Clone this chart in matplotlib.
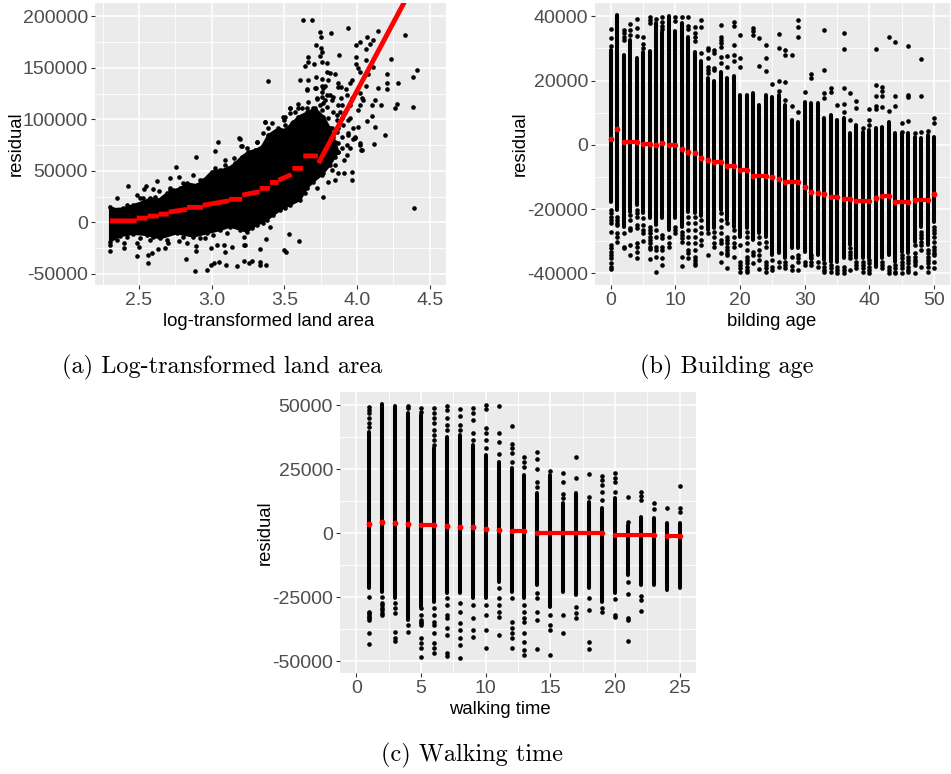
import matplotlib
matplotlib.use("Agg")
import matplotlib.pyplot as plt
from matplotlib.ticker import MultipleLocator

plt.rcParams['font.family'] = ['Liberation Sans', 'DejaVu Sans']
plt.rcParams['axes.unicode_minus'] = False

W, H = 951, 774

# ---- (a) land area: dense cloud outline
a_up_x = [2.30, 2.324, 2.393, 2.461, 2.53, 2.576, 2.633, 2.691, 2.737, 2.783, 2.828, 2.897, 2.943, 3.0,
          3.058, 3.115, 3.161, 3.207, 3.253, 3.299, 3.345, 3.39, 3.459, 3.505, 3.551, 3.597, 3.666, 3.712,
          3.769, 3.815, 3.849, 3.872]
a_up_y = [15000, 13000, 13600, 16900, 20100, 23400, 21700, 28200, 31400, 33000, 37900, 36300, 41100, 49200,
          50800, 52500, 57300, 63800, 68600, 70200, 73500, 84800, 91300, 89600, 96100, 102600, 107400, 110700,
          102600, 91300, 78300, 68600]
a_lo_x = [2.30, 2.37, 2.461, 2.553, 2.645, 2.76, 2.874, 2.966, 3.058, 3.127, 3.241, 3.31, 3.379, 3.471,
          3.54, 3.608, 3.654, 3.70, 3.757, 3.815, 3.849, 3.872]
a_lo_y = [-18700, -13200, -11200, -12200, -15500, -10600, -13800, -10600, -7400, -4100, -9000, -2500, 2300,
          12000, 16900, 21700, 33000, 39500, 46000, 55700, 63800, 68600]

# (a) loose points around the cloud
a_pts_x = [3.628, 3.688, 3.745, 3.75, 3.821, 3.938, 4.142, 4.33, 4.069, 4.023, 4.112, 3.991, 4.092, 3.718,
           3.754, 3.759, 4.06, 3.745, 3.874, 3.66, 3.991, 4.234, 4.062, 3.66, 3.642, 3.706, 3.757, 3.791,
           3.991, 4.112, 4.009, 4.415, 3.791, 3.814, 3.849, 4.021, 4.209, 4.383, 3.61, 3.66, 3.715, 3.761,
           3.803, 3.963, 4.078, 4.284, 3.952, 3.871, 3.89, 4.06, 4.144, 4.209, 4.209, 3.658, 3.718, 3.757,
           3.78, 3.922, 3.759, 3.814, 4.021, 3.837, 3.89, 3.963, 4.044, 4.124, 4.273, 4.101, 4.163, 4.259,
           4.388, 3.596, 3.539, 3.665, 3.722, 3.78, 3.952, 4.009, 4.101, 4.066, 4.124, 4.19, 4.117, 4.027,
           4.021, 3.975, 4.009, 3.94, 3.883, 3.894, 3.493, 3.539, 3.573, 3.619, 3.654, 3.699, 3.745, 3.791,
           3.837, 3.757, 3.711, 3.504, 3.562, 3.631, 3.676, 3.803, 3.86, 3.906, 3.94, 3.986, 3.894, 3.929,
           3.86, 3.826, 3.562, 3.481, 3.642, 3.699, 4.395, 3.386, 3.367,
           2.303, 2.303, 2.397, 2.397, 2.484, 2.56, 2.56, 2.592, 2.503, 2.484, 2.576, 2.633, 2.679, 2.702,
           2.824, 2.89, 2.89, 2.831, 2.888, 2.966, 2.994, 3.016, 3.049, 3.101, 3.173, 3.223, 3.257, 3.278,
           3.333, 3.333, 3.372, 3.09, 3.138, 2.994, 3.039, 3.223, 3.232, 3.223, 3.333, 3.372, 3.402, 3.494,
           3.51, 3.533, 3.599, 2.773, 2.955, 3.085,
           2.427, 2.347, 2.484, 2.535, 2.546, 2.599, 2.638, 2.624, 2.714, 2.773, 2.874, 2.755, 2.895, 3.023,
           3.044, 3.09, 3.193, 3.207, 2.53, 2.714,
           3.191, 3.202, 3.31, 3.367, 3.39, 3.413, 3.505, 3.494, 3.54, 3.597, 3.62, 3.654, 3.677, 3.723, 3.762,
           3.792, 3.769, 3.826, 3.872, 3.93, 3.757, 3.861, 3.895, 3.918, 3.952, 3.975, 3.941, 3.987, 4.021,
           4.033, 3.872, 3.895, 3.93, 3.907, 3.849, 3.872, 3.907, 3.968, 3.849, 3.968, 4.033, 4.021, 3.952,
           3.872, 3.838, 3.654, 3.712, 3.769, 3.872, 3.643, 3.723, 3.769, 3.803, 3.769, 3.826, 3.849,
           2.416, 2.507, 2.61, 2.714, 2.805, 2.92, 3.023, 3.09, 3.15, 3.241, 3.31, 3.356,
           2.347, 2.416, 2.507, 2.599, 2.691, 2.805, 2.92, 3.012, 3.104, 3.195, 3.276, 3.356, 3.425, 3.505]
a_pts_y = [196000, 196000, 184400, 179900, 183700, 188900, 186000, 181500, 179500, 175300, 177300, 172400,
           173400, 172100, 169500, 165600, 167900, 161400, 162700, 160500, 160100, 158800, 157500, 155900,
           152000, 154000, 155900, 155000, 153300, 151100, 149500, 147800, 146200, 144600, 143600, 146200,
           144000, 141400, 138500, 138100, 141000, 139100, 138100, 138100, 144000, 135500, 134900, 134900,
           131000, 132300, 130400, 134900, 129400, 129400, 130700, 132300, 132300, 129400, 126800, 123600,
           125200, 122000, 120300, 120300, 118700, 118700, 115200, 113900, 114200, 111300, 112300, 114800,
           111000, 116800, 119700, 118700, 113900, 109000, 103500, 98400, 92200, 84800, 75700, 70200, 76700,
           80600, 92900, 99300, 107400, 113900, 102600, 105800, 107400, 110600, 107400, 110600, 113900,
           112300, 107400, 102600, 104200, 94500, 97700, 99300, 99300, 101000, 99300, 94500, 86400, 83200,
           83200, 75100, 88000, 91200, 89600, 86400, 91200, 91200, 14000, 136900, 97700,
           -27400, -22000, -25200, -20300, -32600, -31600, -39700, -29400, -23500, -20300, -17100, -26100,
           -24500, -20300, -35800, -27400, -22900, -20300, -47200, -46200, -41000, -39700, -38100, -41700,
           -42300, -37400, -39700, -37100, -38100, -41000, -41300, -28400, -23500, -25200, -22000, -22000,
           -22000, -14500, -26100, -16100, -4800, -26800, -28400, -11000, -17700, -17700, -15500, -22000,
           35300, 23400, 26600, 32100, 35300, 32100, 30500, 40200, 43400, 44100, 46000, 53800, 63100, 69600,
           77700, 60500, 80900, 74100, 23400, 33000,
           81600, 74100, 78300, 97700, 91300, 96100, 102600, 99300, 110700, 110700, 101000, 110700, 104200,
           120400, 122000, 123600, 115500, 118700, 113900, 123600, 109000, 104200, 101000, 107400, 101000,
           91300, 84800, 81600, 113900, 120400, 76700, 71900, 65400, 60500, 55700, 47600, 47600, 48600, 41100,
           41100, 70200, 75100, 71900, 91300, 83200, 128400, 130100, 130100, 131700, 28200, 33000, 25000,
           39500, 47600, 50800, 67000,
           16900, 23400, 25000, 31400, 37900, 41100, 52400, 55700, 62200, 71900, 78300, 86400,
           -17100, -13800, -15500, -13800, -17100, -13800, -15500, -12200, -10600, -7400, -5800, -900, 7200, 13600]

# (a) red fit, NaN breaks the line at its jumps
nan = float("nan")
a_fit_x = [2.30, 2.484, nan, 2.484, 2.56, nan, 2.56, 2.635, nan, 2.635, 2.705, nan, 2.705, 2.83, nan, 2.83, 2.94,
           nan, 2.94, 3.12, nan, 3.12, 3.21, nan, 3.21, 3.33, nan, 3.33, 3.40, nan, 3.40, 3.46, nan, 3.46, 3.55,
           nan, 3.555, 3.63, nan, 3.63, 3.73, nan, 3.735, 4.33]
a_fit_y = [1500, 1500, nan, 4200, 4200, nan, 6200, 6200, nan, 8100, 8100, nan, 10000, 12700, nan, 14600, 14600,
           nan, 16600, 21000, nan, 22400, 22400, nan, 26500, 29800, nan, 33000, 33000, nan, 38800, 38800, nan,
           41000, 46500, nan, 52500, 52500, nan, 64500, 64500, nan, 57500, 215000]

# ---- (b) building age
ages = list(range(51))
b_top = [29500, 40370, 27930, 32590, 26890, 28960, 29170, 37780, 34980, 40160, 35390, 37780, 33630, 28960, 26060,
         20670, 19840, 22740, 20870, 21500, 15480, 15480, 16000, 12370, 15480, 14960, 15480, 12370, 7700, 7180,
         13410, 12890, 12890, 8220, 9260, 7700, 8220, 3550, 6150, 4070, 4590, 5110, 5630, 7180, 3550, 3550, 3550,
         2500, 2000, 3040, 2500]
b_bot = [-17700, -20290, -25470, -20800, -18730, -21320, -22880, -24950, -22880, -26510, -22880, -25470, -20800,
         -21320, -22150, -26510, -25990, -20290, -23400, -25470, -28580, -25990, -29620, -27550, -28580, -34290,
         -33560, -35320, -32210, -32210, -33250, -35320, -34290, -35840, -36360, -36360, -35320, -31180, -35320,
         -35320, -35320, -37920, -35320, -34290, -36360, -33250, -33770, -30140, -25470, -31180, -23920]
b_dots_up = [[36000, 33100, 30700], [], [35700, 34670, 33630, 32590], [37450, 35700, 34150], [39130, 36220, 33830],
             [33420, 31240, 30200], [39850, 38810, 37780], [39130], [39850, 38300, 37050, 36000], [], [39750, 38610],
             [39850], [39850, 37050, 36000], [36740, 34670, 33420, 32280], [38810, 36640, 28440],
             [29990, 29480, 27100, 24300, 23260, 22220], [29480, 28440, 23990, 23260],
             [37260, 33630, 32590, 31550, 30520, 27410, 25330], [27610, 24090], [38090, 37050, 31040, 27930, 26160],
             [34150, 27100, 24300], [], [36430, 35390, 34150], [33320, 24610], [31040, 27100, 22950], [18800],
             [34350, 30210, 19840, 16730], [29480, 27930, 19420, 13930], [27930, 12160], [38710, 36640, 33630, 10300],
             [16520], [21910, 20870], [], [35700, 23260, 16000, 14440], [17560, 16310], [12370],
             [34870, 29900, 17760, 12680, 10300], [16210, 7700], [13610, 11330], [5320], [11030, 7700, 6150],
             [29690, 18590, 15270, 12060, 11030], [18070, 16730, 15270, 11850], [33420, 10610], [31970, 15270, 12060],
             [6880, 4070], [30830, 15480, 14960, 7400], [3550], [26780, 15070, 4070], [4280], [8430, 6670]]
b_dots_low = [[-20290, -21320, -22570, -23400, -24440, -27030, -31180, -32210, -33250, -34290, -35320, -36880, -37920, -38750],
              [-22360, -23400, -24440, -24950, -27550, -28580, -30140], [-27550, -31700, -32210],
              [-21840, -23400, -25990, -26510, -31180, -34290],
              [-20290, -21320, -22570, -24950, -25990, -30660, -31700, -33250, -35320],
              [-22880, -24950, -26510, -27550, -29870],
              [-25470, -26510, -27550, -28580, -29620, -30660, -31700, -32520, -35530],
              [-26510, -28580, -31700, -32730, -34810, -39470], [-28070, -29100, -31700, -32730, -35320, -37400],
              [-28580, -30660, -31700], [-25470, -26510, -27550],
              [-27030, -28070, -29100, -30140, -34810, -37710],
              [-22360, -24440, -26510, -28580, -30660, -32730, -33770, -35320],
              [-22360, -24440, -26510, -28580, -30660, -32730, -34810, -35840, -36880, -37400],
              [-23400, -25470, -27550, -29620, -31180], [-27550, -34290], [-27030, -28580, -30660, -31700],
              [-21320, -23400, -25470, -27550, -29620, -30660, -33770, -36360],
              [-24440, -28580, -29620, -30660, -31700, -32730, -33770, -34290, -38440],
              [-26510, -28580, -30660, -31700, -34810],
              [-31180, -36360, -37400, -38440, -39470],
              [-27030, -28580, -30660, -32730, -34810, -35840, -36880, -37920, -38950, -39470],
              [-33250, -34290, -36880], [-28580, -30660, -32730, -34290, -35840, -38750],
              [-30140, -31700, -36360, -37400, -38440, -39470], [-35840, -37920, -38950], [-36360, -37920],
              [-36360, -37400, -38440], [-34810, -37710, -38950], [-34290, -35320, -36360, -38950],
              [-36360, -37400], [-34290, -35320, -36360, -37400], [-36360, -37920],
              [-36880, -37920, -38950, -39470], [-37400, -38440, -39470], [-37920, -38950, -39990],
              [-37920, -38950, -39990], [-32210, -33250, -34290, -35320, -38950], [-36360, -37400, -38440],
              [-36360, -37400, -38440, -39470], [-35840, -36880, -37920, -38950, -39780], [],
              [-36360, -37400, -38440], [-37920, -38950, -39990], [-37400, -38440, -39470, -40000],
              [-34290, -35320, -36360, -37400, -38440, -39780], [-34810, -35840, -36880, -37920, -38950, -39470],
              [-31180, -33770, -34810, -35840, -36360, -37400, -39990],
              [-27030, -28070, -29100, -30140, -31180, -32730, -37920],
              [-32730, -33770, -34810, -35840, -36880, -37920, -39470],
              [-25470, -26510, -27550, -28580, -30140, -31700, -32730, -33770, -34290, -36360, -38440]]
# (b) red fit: first age, last age, value of each run
b_fit_from = [0, 1, 2, 5, 7, 8, 9, 11, 12, 13, 14, 15, 16, 18, 20, 22, 25, 26, 27, 30, 31, 32, 33, 34, 36, 38, 41, 42, 44, 47, 50]
b_fit_to = [0, 1, 4, 6, 7, 8, 10, 11, 12, 13, 14, 15, 17, 19, 21, 24, 25, 26, 29, 30, 31, 32, 33, 35, 37, 40, 41, 43, 46, 49, 50]
b_fit_val = [1700, 4800, 870, 350, 40, 560, 40, -1200, -2350, -2660, -4100, -4630, -5250, -6700, -7840, -9600, -9900,
             -10500, -11700, -13240, -14600, -15100, -15400, -16350, -17000, -17500, -16650, -16000, -17800, -17300, -15400]

# ---- (c) walking time
walks = list(range(1, 26))
c_top = [39700, 50400, 49900, 46900, 46200, 33200, 37800, 38400, 34500, 30600, 28000, 25400, 22800, 15600, 22800,
         11700, 15600, 12400, 9800, 13700, 3300, 6500, 5900, 3900, 3900]
c_bot = [-21500, -22800, -25400, -33900, -28600, -26700, -23400, -23400, -25400, -25400, -18900, -22800, -25400,
         -20200, -28600, -22800, -24100, -21500, -26700, -23400, -16300, -20200, -20200, -22100, -21500]
c_dots_up = [[49500, 48200, 46900, 44900, 43000, 41700], [], [], [49900, 48800], [48800, 47500],
             [48800, 46900, 44900, 43000, 40400, 38400, 36500, 34500], [49900, 48200, 44900, 42300, 40400],
             [48600, 46000, 42300, 40400], [49100, 46900, 44300, 39100, 36500],
             [50100, 48600, 41000, 39100, 36500, 33200], [49900, 39100, 35800, 30900],
             [42100, 34800, 33200, 31200, 28000], [29900, 28000, 26000], [31900, 29000, 25000, 20200, 18200], [24300],
             [23400, 20200, 15200, 13700], [29900, 21700], [23000, 14300], [22500, 20800, 18900, 16300, 13000],
             [23400, 21500, 19900, 16300], [14300, 4600], [16000, 14700, 13000], [11700, 9400], [9800],
             [18500, 10000, 8200]]
c_dots_low = [[-24700, -30600, -31200, -31900, -32600, -33200, -33900, -39100, -43300],
              [-24700, -27300, -28000, -29300, -29900, -31200, -31900], [-27300, -29300, -31200, -38400, -41000, -41900],
              [-35800, -38400], [-29300, -31900, -33900, -34500, -35200, -35800, -41000, -43000, -44900, -48200],
              [-29300, -31900, -34500, -35800, -39100, -43000, -44900, -46900],
              [-25400, -28000, -31900, -33200, -37100, -39700, -46900, -47800],
              [-27300, -30600, -35200, -37800, -41000, -43700, -48600], [-28000, -33200, -37800, -40400],
              [-28000, -31900, -37800, -44900], [-21500, -25400, -28000, -30600, -32600, -39700],
              [-25400, -34500, -37100, -39100, -41000, -44900],
              [-28000, -30600, -33200, -34500, -39100, -42300, -45600, -47500],
              [-23400, -25400, -30600, -33900, -45200], [-31900, -35800, -37800, -47500], [-31900, -39100],
              [-28600, -31200, -33200], [-25400, -29900, -42300, -45200], [-29300, -30600],
              [-25800, -31900, -32600], [-18900, -23800, -33200, -33900, -41900], [-24500, -26000, -30200], [], [], []]
# (c) red fit runs
c_fit_from = [1, 2, 3, 4, 5, 7, 8, 9, 10, 11, 12, 14, 20, 24]
c_fit_to = [1, 2, 3, 4, 6, 7, 8, 9, 10, 11, 13, 19, 23, 25]
c_fit_val = [3650, 4430, 4040, 3650, 3250, 2860, 2600, 2600, 1820, 1430, 780, 0, -780, -1170]

captions = ["(a) Log-transformed land area", "(b) Building age", "(c) Walking time"]
x_titles = ["log-transformed land area", "bilding age", "walking time"]


def panel(left, top, right, bottom, xlim, ylim, xmaj, ymaj):
    ax = fig.add_axes([left / W, 1 - bottom / H, (right - left) / W, (bottom - top) / H])
    ax.set_facecolor("#EBEBEB")
    for s in ax.spines.values():
        s.set_visible(False)
    ax.set_xlim(*xlim)
    ax.set_ylim(*ylim)
    ax.xaxis.set_major_locator(MultipleLocator(xmaj))
    ax.xaxis.set_minor_locator(MultipleLocator(xmaj / 2))
    ax.yaxis.set_major_locator(MultipleLocator(ymaj))
    ax.yaxis.set_minor_locator(MultipleLocator(ymaj / 2))
    ax.grid(which="major", color="white", lw=1.1)
    ax.grid(which="minor", color="white", lw=0.6)
    ax.set_axisbelow(True)
    ax.tick_params(which="major", length=3, width=0.8, color="#333333", labelcolor="#4D4D4D",
                   labelsize=14, pad=2)
    ax.tick_params(which="minor", length=0)
    return ax


def columns(ax, xs, top, bot, dots_up, dots_low):
    ax.vlines(xs, bot, top, color="black", lw=2.9, capstyle="round", zorder=2)
    px, py = [], []
    for x, up, low in zip(xs, dots_up, dots_low):
        for v in up + low:
            px.append(x)
            py.append(v)
    ax.scatter(px, py, s=11, color="black", linewidths=0, zorder=2)


def fit_runs(ax, starts, ends, vals):
    for a, b, v in zip(starts, ends, vals):
        ax.plot([a, b], [v, v], color="#FF0000", lw=3.0, solid_capstyle="round", zorder=3)
        ax.scatter([a, b], [v, v], s=16, color="#FF0000", linewidths=0, zorder=3)


def label(x, y, s, **kw):
    fig.text(x / W, 1 - y / H, s, ha="center", va="center", **kw)


fig = plt.figure(figsize=(W / 100, H / 100), dpi=100)

ax_a = panel(95, 3, 445.7, 285, (2.197, 4.61), (-60700, 212900), 0.5, 50000)
ax_a.fill(a_up_x + a_lo_x[::-1], a_up_y + a_lo_y[::-1], color="black", lw=1.5, zorder=2)
ax_a.scatter(a_up_x + a_lo_x, a_up_y + a_lo_y, s=11, color="black", linewidths=0, zorder=2)
ax_a.scatter(a_pts_x, a_pts_y, s=11, color="black", linewidths=0, zorder=2)
ax_a.plot(a_fit_x, a_fit_y, color="#FF0000", lw=3.5, solid_capstyle="butt", zorder=3)

ax_b = panel(595, 3, 950, 285, (-2.43, 52.47), (-43640, 44140), 10, 20000)
columns(ax_b, ages, b_top, b_bot, b_dots_up, b_dots_low)
fit_runs(ax_b, b_fit_from, b_fit_to, b_fit_val)

ax_c = panel(340, 391.7, 695.7, 673.3, (-1.26, 26.24), (-54687, 55312), 5, 25000)
columns(ax_c, walks, c_top, c_bot, c_dots_up, c_dots_low)
fit_runs(ax_c, c_fit_from, c_fit_to, c_fit_val)

label(269, 321, x_titles[0], fontsize=13.3, color="black")
label(771.7, 321, x_titles[1], fontsize=13.3, color="black")
label(500, 709, x_titles[2], fontsize=13.3, color="black")
label(16, 144, "residual", fontsize=13.3, color="black", rotation=90)
label(520.7, 144, "residual", fontsize=13.3, color="black", rotation=90)
label(265, 533, "residual", fontsize=13.3, color="black", rotation=90)

serif = ["cmr10", "DejaVu Serif"]
label(222, 367, captions[0], fontsize=17.5, family=serif)
label(726.7, 367, captions[1], fontsize=17.5, family=serif)
label(472, 755, captions[2], fontsize=17.5, family=serif)

fig.savefig("out.png", dpi=100)
